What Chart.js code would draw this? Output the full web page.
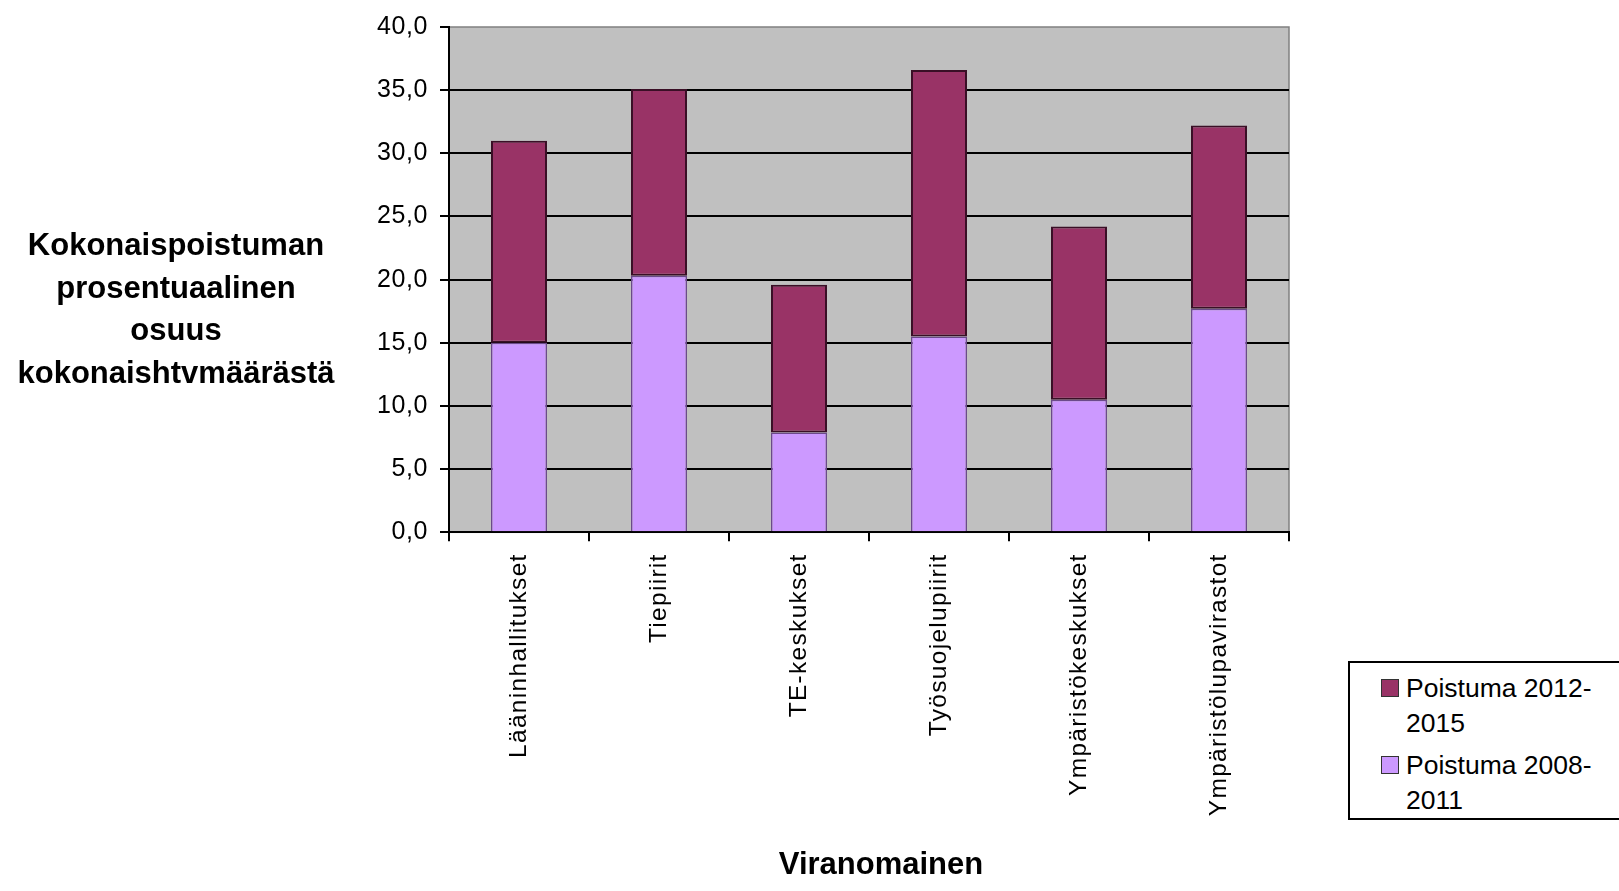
<!DOCTYPE html>
<html>
<head>
<meta charset="utf-8">
<script src="https://cdn.jsdelivr.net/npm/chart.js@4/dist/chart.umd.min.js"></script>
<style>
  html, body { margin: 0; padding: 0; background: #fff; overflow: hidden; width: 1619px; height: 891px; }
  #wrap { position: relative; width: 1619px; height: 891px; }
  canvas { position: absolute; left: 0; top: 0; }
  .ytitle { position: absolute; left: 16px; top: 224px; width: 320px; text-align: center;
    font: bold 31px "Liberation Sans", Arial, sans-serif; line-height: 42.5px; color: #000; }
  .xtitle { position: absolute; left: 681px; top: 846px; width: 400px; text-align: center;
    font: bold 31px "Liberation Sans", Arial, sans-serif; line-height: 36px; color: #000; }
  #legend { position: absolute; left: 1348px; top: 661px; width: 320px; height: 159px;
    border: 2px solid #000; background: #fff; box-sizing: border-box; }
  .item { position: relative; margin-left: 56px; font: 26.5px "Liberation Sans", Arial, sans-serif;
    line-height: 35px; color: #000; width: 212px; }
  .item + .item { margin-top: 7px; }
  .sw { position: absolute; left: -25px; top: 8px; width: 16px; height: 16px; border: 1px solid #333; }
</style>
</head>
<body>
<div id="wrap">
  <canvas id="c" width="1619" height="891"></canvas>
  <div class="ytitle" id="ytitle"></div>
  <div class="xtitle" id="xtitle"></div>
  <div id="legend"></div>
</div>
<script>
const categories = ['Lääninhallitukset', 'Tiepiirit', 'TE-keskukset', 'Työsuojelupiirit', 'Ympäristökeskukset', 'Ympäristölupavirastot'];
const poistuma2008_2011 = [15.0, 20.3, 7.9, 15.5, 10.5, 17.7];
const poistuma2012_2015 = [16.0, 14.8, 11.7, 21.1, 13.7, 14.5];
const seriesLabels = ['Poistuma 2008-2011', 'Poistuma 2012-2015'];
const yTitleLines = ['Kokonaispoistuman', 'prosentuaalinen', 'osuus', 'kokonaishtvmäärästä'];
const xTitle = 'Viranomainen';
const yMin = 0, yMax = 40, yStep = 5;

const colLav = '#CC99FF';
const colMaroon = '#993366';

document.getElementById('ytitle').innerHTML = yTitleLines.join('<br>');
document.getElementById('xtitle').textContent = xTitle;

const spacing = { x: '1.3px', y: '0.6px' };

const plotBg = {
  id: 'plotBg',
  afterLayout(chart) {
    Object.keys(spacing).forEach(id => {
      const s = chart.scales[id];
      if (s && !s._lsWrapped) {
        const orig = s.drawLabels;
        s.drawLabels = function (area) {
          const ctx = this.ctx;
          ctx.save();
          ctx.letterSpacing = spacing[id];
          orig.call(this, area);
          ctx.restore();
        };
        s._lsWrapped = true;
      }
    });
  },
  beforeDraw(chart) {
    const {ctx, chartArea: a} = chart;
    ctx.save();
    ctx.fillStyle = '#C0C0C0';
    ctx.fillRect(a.left, a.top, a.right - a.left, a.bottom - a.top);
    ctx.strokeStyle = '#808080';
    ctx.lineWidth = 1.5;
    ctx.strokeRect(a.left, a.top, a.right - a.left, a.bottom - a.top);
    ctx.restore();
  }
};

const chart = new Chart(document.getElementById('c'), {
  type: 'bar',
  data: {
    labels: categories,
    datasets: [
      { label: seriesLabels[0], data: poistuma2008_2011, backgroundColor: colLav,
        borderColor: '#6b4a8a', borderWidth: 1.5, borderSkipped: 'start',
        categoryPercentage: 1, barPercentage: 0.4 },
      { label: seriesLabels[1], data: poistuma2012_2015, backgroundColor: colMaroon,
        borderColor: '#3a0f26', borderWidth: 2, borderSkipped: false,
        categoryPercentage: 1, barPercentage: 0.4 }
    ]
  },
  options: {
    responsive: false,
    animation: false,
    devicePixelRatio: 1,
    layout: { padding: { left: 0, right: 330, top: 23, bottom: 0 } },
    plugins: { legend: { display: false }, tooltip: { enabled: false }, title: { display: false } },
    scales: {
      x: {
        stacked: true,
        offset: true,
        grid: { display: true, drawOnChartArea: false, drawTicks: true, tickLength: 9,
                color: '#000', lineWidth: 2, offset: true },
        border: { display: true, color: '#000', width: 2 },
        ticks: { maxRotation: 90, minRotation: 90, padding: 12, color: '#000',
                 font: { family: '"Liberation Sans", Arial, sans-serif', size: 24.5 } },
        afterFit(s) { s.height = 891 - 532.3; }
      },
      y: {
        stacked: true,
        min: yMin, max: yMax,
        grid: { color: (c) => (c.tick && c.tick.value === yMax) ? 'rgba(0,0,0,0)' : '#000',
                tickColor: '#000', lineWidth: 2, tickLength: 9, drawTicks: true },
        border: { display: true, color: '#000', width: 2 },
        ticks: { stepSize: yStep, padding: 12, color: '#000',
                 font: { family: '"Liberation Sans", Arial, sans-serif', size: 25 },
                 callback: (v) => Number(v).toFixed(1).replace('.', ',') },
        afterFit(s) { s.width = 449; }
      }
    }
  },
  plugins: [plotBg]
});

// HTML legend (reverse order like the original)
const legend = document.getElementById('legend');
const ds = chart.data.datasets.slice().reverse();
legend.style.paddingTop = '8px';
ds.forEach(d => {
  const it = document.createElement('div');
  it.className = 'item';
  const sw = document.createElement('span');
  sw.className = 'sw';
  sw.style.background = d.backgroundColor;
  it.appendChild(sw);
  it.appendChild(document.createTextNode(d.label.replace('-', '-\u200B')));
  legend.appendChild(it);
});
</script>
</body>
</html>
